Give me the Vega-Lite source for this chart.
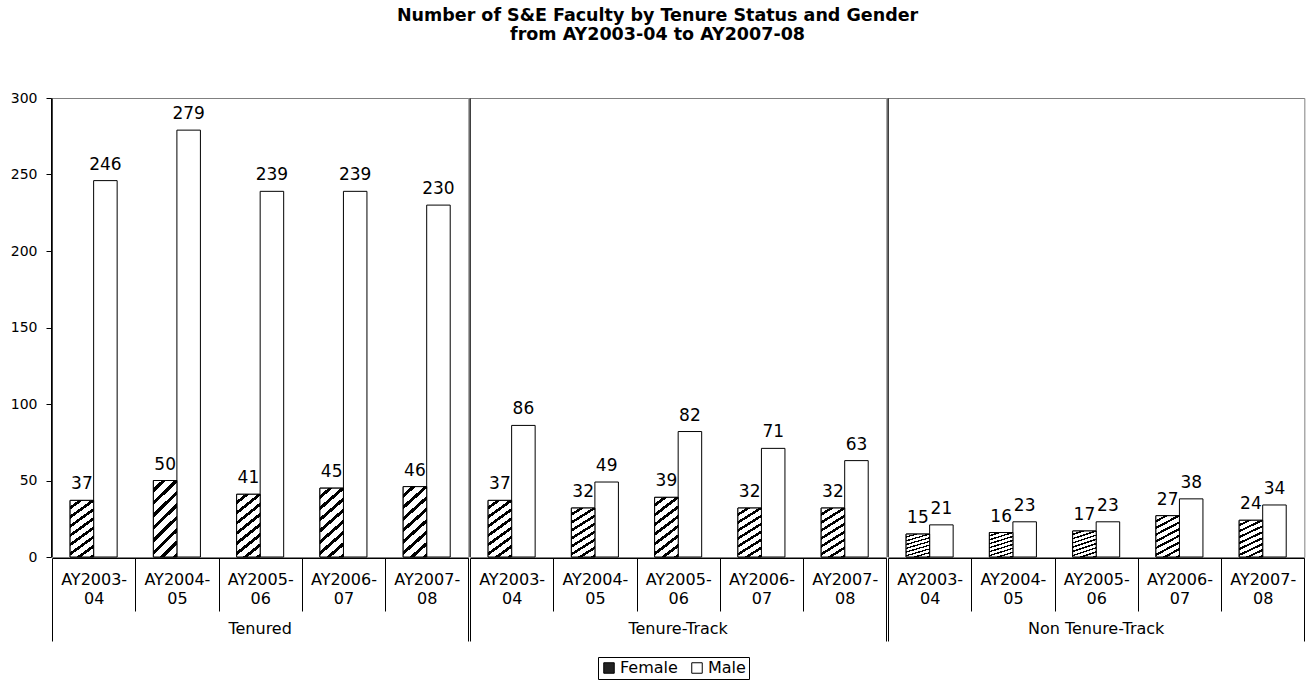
{
  "$schema": "https://vega.github.io/schema/vega-lite/v6.json",
  "padding": {"left": 10, "top": 6, "right": 7, "bottom": 6},
  "background": "white",
  "config": {
    "font": "DejaVu Sans",
    "view": {"stroke": "#808080", "strokeWidth": 1}
  },
  "title": {
    "text": ["Number of S&E Faculty by Tenure Status and Gender", "from AY2003-04 to AY2007-08"],
    "font": "DejaVu Sans",
    "fontSize": 17.5,
    "fontWeight": "bold",
    "color": "black",
    "anchor": "middle",
    "frame": "bounds",
    "lineHeight": 19,
    "offset": 48
  },
  "datasets": {
    "faculty": [
      {"status": "Tenured", "year": "AY2003-04", "gender": "Female", "value": 37},
      {"status": "Tenured", "year": "AY2003-04", "gender": "Male", "value": 246},
      {"status": "Tenured", "year": "AY2004-05", "gender": "Female", "value": 50},
      {"status": "Tenured", "year": "AY2004-05", "gender": "Male", "value": 279},
      {"status": "Tenured", "year": "AY2005-06", "gender": "Female", "value": 41},
      {"status": "Tenured", "year": "AY2005-06", "gender": "Male", "value": 239},
      {"status": "Tenured", "year": "AY2006-07", "gender": "Female", "value": 45},
      {"status": "Tenured", "year": "AY2006-07", "gender": "Male", "value": 239},
      {"status": "Tenured", "year": "AY2007-08", "gender": "Female", "value": 46},
      {"status": "Tenured", "year": "AY2007-08", "gender": "Male", "value": 230},
      {"status": "Tenure-Track", "year": "AY2003-04", "gender": "Female", "value": 37},
      {"status": "Tenure-Track", "year": "AY2003-04", "gender": "Male", "value": 86},
      {"status": "Tenure-Track", "year": "AY2004-05", "gender": "Female", "value": 32},
      {"status": "Tenure-Track", "year": "AY2004-05", "gender": "Male", "value": 49},
      {"status": "Tenure-Track", "year": "AY2005-06", "gender": "Female", "value": 39},
      {"status": "Tenure-Track", "year": "AY2005-06", "gender": "Male", "value": 82},
      {"status": "Tenure-Track", "year": "AY2006-07", "gender": "Female", "value": 32},
      {"status": "Tenure-Track", "year": "AY2006-07", "gender": "Male", "value": 71},
      {"status": "Tenure-Track", "year": "AY2007-08", "gender": "Female", "value": 32},
      {"status": "Tenure-Track", "year": "AY2007-08", "gender": "Male", "value": 63},
      {"status": "Non Tenure-Track", "year": "AY2003-04", "gender": "Female", "value": 15},
      {"status": "Non Tenure-Track", "year": "AY2003-04", "gender": "Male", "value": 21},
      {"status": "Non Tenure-Track", "year": "AY2004-05", "gender": "Female", "value": 16},
      {"status": "Non Tenure-Track", "year": "AY2004-05", "gender": "Male", "value": 23},
      {"status": "Non Tenure-Track", "year": "AY2005-06", "gender": "Female", "value": 17},
      {"status": "Non Tenure-Track", "year": "AY2005-06", "gender": "Male", "value": 23},
      {"status": "Non Tenure-Track", "year": "AY2006-07", "gender": "Female", "value": 27},
      {"status": "Non Tenure-Track", "year": "AY2006-07", "gender": "Male", "value": 38},
      {"status": "Non Tenure-Track", "year": "AY2007-08", "gender": "Female", "value": 24},
      {"status": "Non Tenure-Track", "year": "AY2007-08", "gender": "Male", "value": 34}
    ]
  },
  "data": {"name": "faculty"},
  "facet": {
    "column": {
      "field": "status",
      "type": "nominal",
      "sort": ["Tenured", "Tenure-Track", "Non Tenure-Track"],
      "header": {
        "title": null,
        "labelOrient": "bottom",
        "labelFontSize": 16,
        "labelColor": "black",
        "labelFont": "DejaVu Sans",
        "labelPadding": -21
      }
    }
  },
  "spacing": 0,
  "spec": {
    "width": 416.33,
    "height": 459,
    "encoding": {
      "x": {
        "field": "year",
        "type": "nominal",
        "sort": null,
        "scale": {"type": "band", "paddingInner": 0, "paddingOuter": 0},
        "axis": {
          "orient": "bottom",
          "title": null,
          "labelAngle": 0,
          "tickBand": "extent",
          "tickSize": {"condition": {"test": "datum.extra || datum.value === 'AY2007-08'", "value": 83}, "value": 53},
          "tickColor": "black",
          "domainColor": "black",
          "labelFontSize": 16,
          "labelColor": "black",
          "labelBaseline": "top",
          "labelPadding": {"condition": {"test": "datum.extra || datum.value === 'AY2007-08'", "value": -70}, "value": -40},
          "labelLineHeight": 19,
          "labelOverlap": false,
          "labelExpr": "[slice(datum.label,0,7), slice(datum.label,7)]"
        }
      },
      "xOffset": {
        "field": "gender",
        "type": "nominal",
        "sort": ["Female", "Male"],
        "scale": {"domain": ["Female", "Male"], "paddingInner": 0, "paddingOuter": 0.77}
      },
      "y": {
        "field": "value",
        "type": "quantitative",
        "scale": {"domain": [0, 300], "nice": false},
        "axis": {
          "title": null,
          "values": [0, 50, 100, 150, 200, 250, 300],
          "grid": false,
          "tickSize": 5,
          "tickColor": "black",
          "domainColor": "black",
          "labelFontSize": 14,
          "labelColor": "black",
          "labelPadding": 9
        }
      }
    },
    "layer": [
      {
        "mark": {"type": "bar", "stroke": "black", "strokeWidth": 1},
        "encoding": {
          "fill": {
            "field": "gender",
            "type": "nominal",
            "sort": ["Female", "Male"],
            "scale": {"domain": ["Female", "Male"], "range": ["#222222", "white"]},
            "legend": {
              "orient": "none",
              "legendX": 546,
              "legendY": 559,
              "direction": "horizontal",
              "title": null,
              "strokeColor": "black",
              "padding": 3,
              "symbolType": "square",
              "symbolSize": 110,
              "symbolStrokeColor": "black",
              "symbolStrokeWidth": 1,
              "symbolOpacity": 1,
              "labelFontSize": 16,
              "labelColor": "black",
              "labelOffset": 3,
              "columnPadding": 11,
              "encode": {
                "symbols": {
                  "update": {
                    "fill": [
                      {
                        "test": "datum.value === 'Female'",
                        "value": {
                          "gradient": "linear",
                          "x1": 0, "y1": 0, "x2": 1, "y2": 1,
                          "stops": [
                            {"offset": 0, "color": "black"},
                            {"offset": 0.45, "color": "black"},
                            {"offset": 0.45, "color": "white"},
                            {"offset": 0.62, "color": "white"},
                            {"offset": 0.62, "color": "black"},
                            {"offset": 1, "color": "black"}
                          ]
                        }
                      },
                      {"value": "white"}
                    ],
                    "stroke": {"value": "black"}
                  }
                }
              }
            }
          }
        }
      },
      {
        "transform": [{"filter": "datum.gender === 'Female'"}],
        "mark": {
          "type": "bar",
          "stroke": "black",
          "strokeWidth": 1,
          "fill": {
            "gradient": "linear",
            "x1": 0, "y1": 0, "x2": 0.358, "y2": 1.193,
            "stops": [
              {"offset": 0, "color": "white"},
              {"offset": 0.08, "color": "white"},
              {"offset": 0.08, "color": "black"},
              {"offset": 0.125, "color": "black"},
              {"offset": 0.125, "color": "white"},
              {"offset": 0.205, "color": "white"},
              {"offset": 0.205, "color": "black"},
              {"offset": 0.25, "color": "black"},
              {"offset": 0.25, "color": "white"},
              {"offset": 0.33, "color": "white"},
              {"offset": 0.33, "color": "black"},
              {"offset": 0.375, "color": "black"},
              {"offset": 0.375, "color": "white"},
              {"offset": 0.455, "color": "white"},
              {"offset": 0.455, "color": "black"},
              {"offset": 0.5, "color": "black"},
              {"offset": 0.5, "color": "white"},
              {"offset": 0.58, "color": "white"},
              {"offset": 0.58, "color": "black"},
              {"offset": 0.625, "color": "black"},
              {"offset": 0.625, "color": "white"},
              {"offset": 0.705, "color": "white"},
              {"offset": 0.705, "color": "black"},
              {"offset": 0.75, "color": "black"},
              {"offset": 0.75, "color": "white"},
              {"offset": 0.83, "color": "white"},
              {"offset": 0.83, "color": "black"},
              {"offset": 0.875, "color": "black"},
              {"offset": 0.875, "color": "white"},
              {"offset": 0.955, "color": "white"},
              {"offset": 0.955, "color": "black"},
              {"offset": 1, "color": "black"}
            ]
          }
        }
      },
      {
        "mark": {"type": "text", "baseline": "alphabetic", "dy": -11, "fontSize": 17, "color": "black"},
        "encoding": {
          "text": {"field": "value", "type": "quantitative"}
        }
      },
      {
        "transform": [{"filter": "datum.year === 'AY2003-04' && datum.gender === 'Female'"}],
        "mark": {"type": "rule", "color": "black", "strokeWidth": 1},
        "encoding": {
          "x": {"field": "year", "type": "nominal", "bandPosition": 0},
          "xOffset": null,
          "y": null
        }
      }
    ]
  }
}
